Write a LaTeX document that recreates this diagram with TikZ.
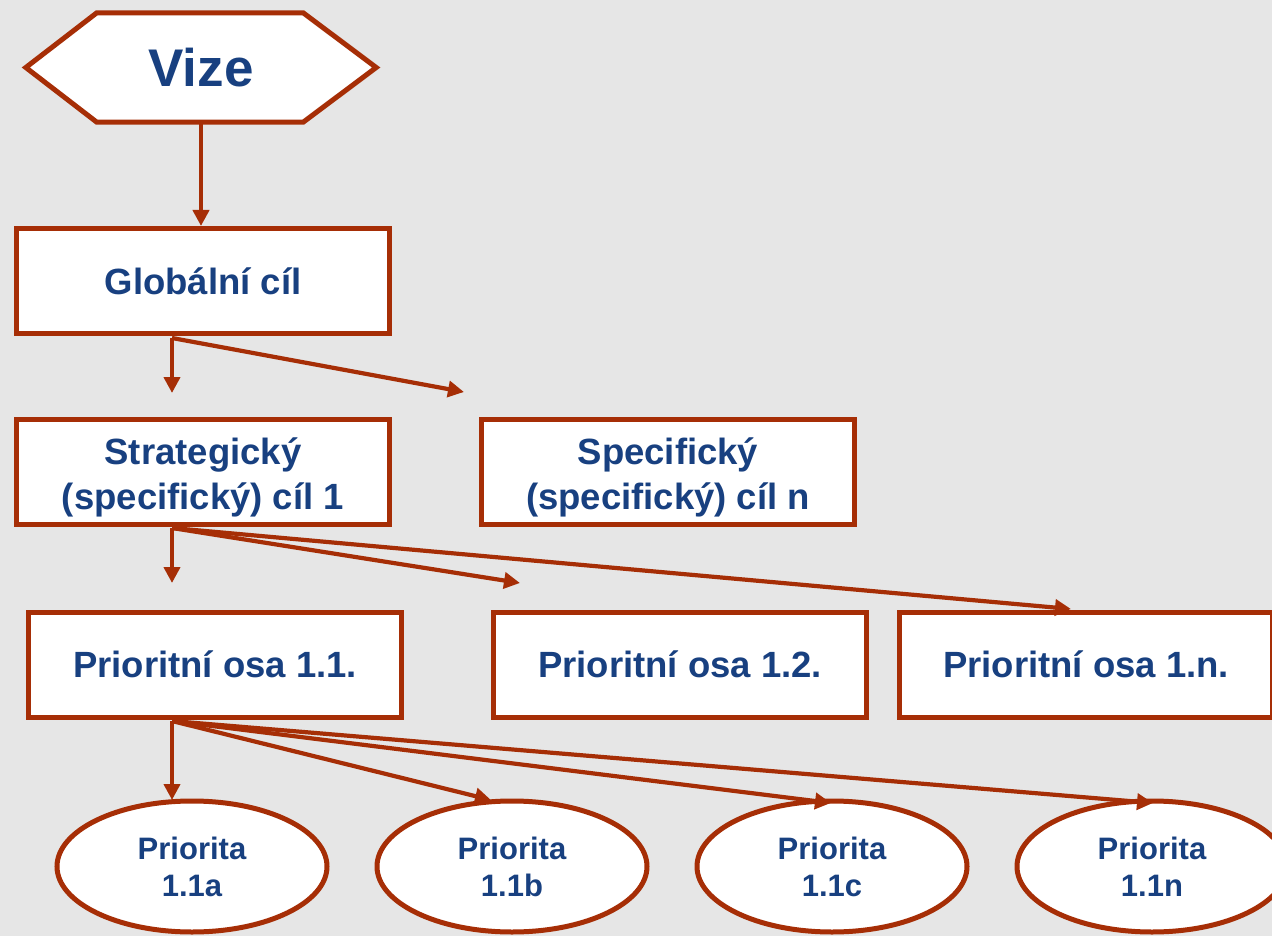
\documentclass[tikz,border=0pt]{standalone}
\usepackage{fontspec}
\setmainfont{Liberation Sans}
\usetikzlibrary{shapes.geometric,arrows.meta}
\definecolor{rust}{RGB}{166,46,6}
\definecolor{navy}{RGB}{24,64,128}
\definecolor{bg}{RGB}{230,230,230}
\begin{document}
\begin{tikzpicture}[x=1pt,y=-1pt,
 box/.style={draw=rust,line width=5pt,fill=white,minimum width=373pt,minimum height=105pt,inner sep=0pt,text=navy,font=\fontsize{36.5}{45}\selectfont\bfseries,align=center},
 oval/.style={ellipse,draw=rust,line width=5pt,fill=white,minimum width=270pt,minimum height=131pt,inner sep=0pt,text=navy,font=\fontsize{31}{37}\selectfont\bfseries,align=center},
 conn/.style={draw=rust,line width=4.2pt,-{Triangle[length=16pt,width=16pt]}},
 hexframe/.style={draw=rust,line width=5pt,fill=white,line join=miter},
 vtext/.style={text=navy,font=\fontsize{53}{60}\selectfont\bfseries,inner sep=0pt}]
\useasboundingbox (0,0) rectangle (1272,936);
\clip (0,0) rectangle (1272,936);
\fill[bg] (0,0) rectangle (1272,936);

% Vize hexagon
\path node[minimum width=350pt,minimum height=109pt,inner sep=0pt] (vize) at (201,67.5) {};
\draw[hexframe] (vize.west) -- ([xshift=71pt]vize.north west) -- ([xshift=-73pt]vize.north east)
  -- (vize.east) -- ([xshift=-73pt]vize.south east) -- ([xshift=71pt]vize.south west) -- cycle;
\node[vtext] (vizelabel) at (vize) {Vize};

% boxes
\node[box] (glob) at (203,281) {Glob\'aln\'{\i} c\'{\i}l};
\node[box] (strat) at (203,471.5) {\rule{0pt}{38pt}Strategick\'y\\(specifick\'y) c\'{\i}l 1};
\node[box] (spec) at (668,471.5) {\rule{0pt}{38pt}Specifick\'y\\(specifick\'y) c\'{\i}l n};
\node[box] (p11) at (215,664.5) {Prioritn\'{\i} osa 1.1.};
\node[box] (p12) at (680,664.5) {Prioritn\'{\i} osa 1.2.};
\node[box] (p1n) at (1086,664.5) {Prioritn\'{\i} osa 1.n.};

% ellipses
\node[oval] (e1) at (192,866.5) {Priorita\\1.1a};
\node[oval] (e2) at (512,866.5) {Priorita\\1.1b};
\node[oval] (e3) at (832,866.5) {Priorita\\1.1c};
\node[oval] (e4) at (1152,866.5) {Priorita\\1.1n};

% connector points
\coordinate (g0) at (172,338);
\coordinate (gs) at (172,393);
\coordinate (gn) at (464,392);
\coordinate (s0) at (172,528);
\coordinate (sa) at (172,583);
\coordinate (sb) at (520,583);
\coordinate (sc) at (1071,609);
\coordinate (p0) at (172,721);
\coordinate (pa) at (172,800);
\coordinate (pb) at (491,800);
\coordinate (pc) at (831,803);
\coordinate (pd) at (1153,803);

\draw[conn] (vize.south) -- (vize.south |- glob.north);
\draw[conn] (g0) -- (gs);
\draw[conn] (g0) -- (gn);
\draw[conn] (s0) -- (sa);
\draw[conn] (s0) -- (sb);
\draw[conn] (s0) -- (sc);
\draw[conn] (p0) -- (pa);
\draw[conn] (p0) -- (pb);
\draw[conn] (p0) -- (pc);
\draw[conn] (p0) -- (pd);
\end{tikzpicture}
\end{document}
